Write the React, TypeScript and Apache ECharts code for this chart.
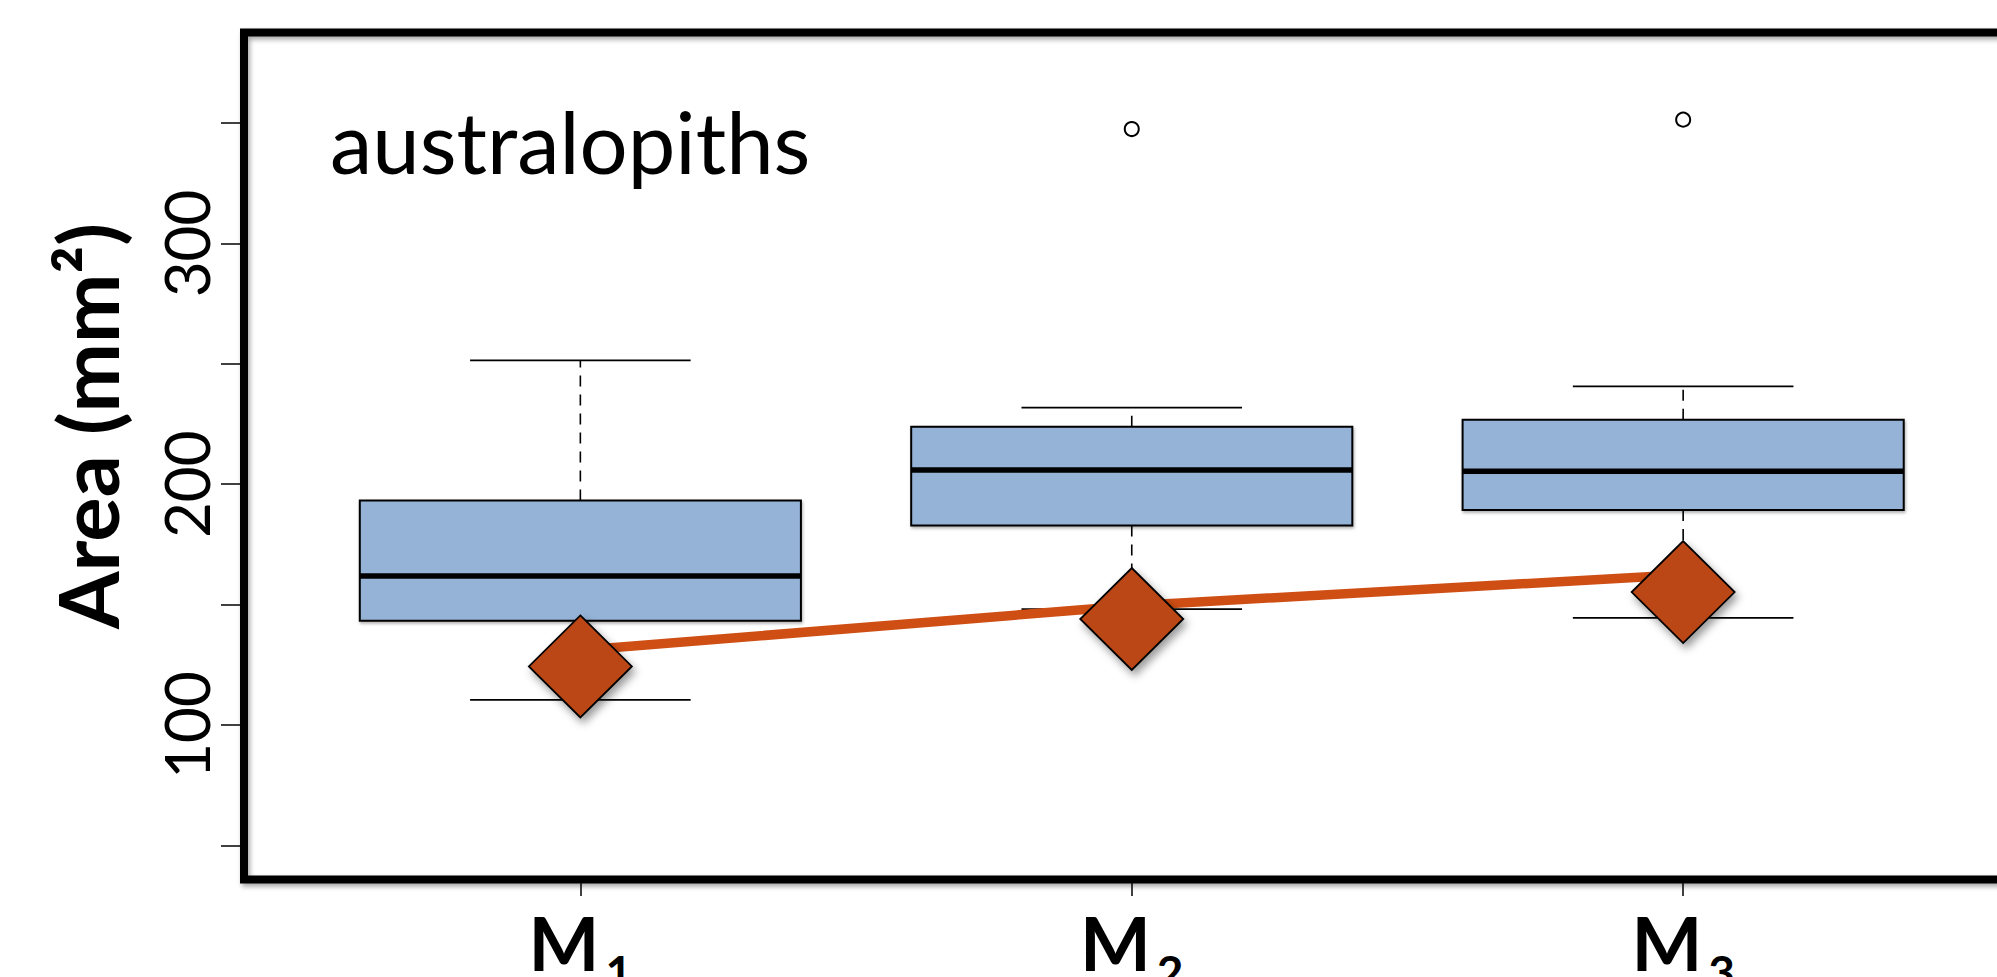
import React, { useEffect, useRef } from "react";
import * as echarts from "echarts";

// ---- data ----
const toothSubscripts = ["1", "2", "3"];
const toothPositions = [1, 2, 3];
// [lower whisker, Q1, median, Q3, upper whisker]
const boxStats = [
  [110.4, 143.3, 161.9, 193.2, 251.4],
  [148.1, 182.8, 205.9, 223.8, 231.8],
  [144.5, 189.3, 205.4, 226.8, 240.6],
];
const outlierPoints = [
  [2, 347.5],
  [3, 351.4],
];
const diamondValues = [124.3, 144.0, 155.2];
const lineValues = [131.0, 149.5, 162.4];
const yTickValues = [50, 100, 150, 200, 250, 300, 350];
const yLabelValues = [100, 200, 300];
const groupLabel = "australopiths";
const yTitle = "Area (mm²)";

const FONT = "Lato, 'Noto Sans', sans-serif";

export default function App() {
  const ref = useRef<HTMLDivElement>(null);

  useEffect(() => {
    if (!ref.current) return;
    const chart = echarts.init(ref.current, undefined, { renderer: "svg" });

    const boxData = toothPositions.map((x, i) => [x, ...boxStats[i]]);

    const option: any = {
      animation: false,
      backgroundColor: "#ffffff",
      grid: {
        left: 244,
        top: 32.5,
        bottom: 97.5,
        right: -17,
        show: true,
        borderColor: "#000",
        borderWidth: 8,
        backgroundColor: "transparent",
        shadowColor: "rgba(0,0,0,0.35)",
        shadowBlur: 5,
        shadowOffsetX: 2,
        shadowOffsetY: 3,
        containLabel: false,
        outerBoundsMode: "none",
      },
      xAxis: {
        type: "value",
        min: 0.39,
        max: 3.6,
        axisLine: { show: false },
        splitLine: { show: false },
        axisTick: {
          show: true,
          customValues: toothPositions,
          length: 16.5,
          lineStyle: { color: "#000", width: 1.5 },
        },
        axisLabel: {
          show: true,
          customValues: toothPositions,
          margin: 9,
          formatter: (v: number) => {
            const i = toothPositions.indexOf(Math.round(v));
            return `{m|M}{s|${toothSubscripts[i] ?? ""}}`;
          },
          rich: {
            m: {
              fontFamily: FONT,
              fontWeight: "bold",
              fontSize: 75,
              lineHeight: 106,
              color: "#000",
            },
            s: {
              fontFamily: FONT,
              fontWeight: "bold",
              fontSize: 46,
              lineHeight: 14,
              verticalAlign: "bottom",
              padding: [0, 0, 0, 6],
              color: "#000",
            },
          },
        },
      },
      yAxis: {
        type: "value",
        min: 35.8,
        max: 387.6,
        name: yTitle,
        nameLocation: "middle",
        nameGap: 116,
        nameTextStyle: {
          fontFamily: FONT,
          fontWeight: "bold",
          fontSize: 83,
          color: "#000",
          padding: [0, 0, 0, 60],
        },
        axisLine: { show: false },
        splitLine: { show: false },
        axisTick: {
          show: true,
          customValues: yTickValues,
          length: 23,
          lineStyle: { color: "#000", width: 1.5 },
        },
        axisLabel: {
          show: true,
          customValues: yLabelValues,
          rotate: 90,
          margin: 27,
          fontFamily: FONT,
          fontSize: 62,
          color: "#000",
        },
      },
      graphic: [
        {
          type: "text",
          left: 330,
          top: 98,
          style: {
            text: groupLabel,
            fontFamily: FONT,
            fontSize: 85,
            fill: "#000",
          },
          z: 100,
        },
      ],
      series: [
        {
          type: "custom",
          data: boxData,
          encode: { x: 0, y: [1, 2, 3, 4, 5] },
          z: 2,
          renderItem: (params: any, api: any) => {
            const x = api.value(0);
            const lo = api.value(1);
            const q1 = api.value(2);
            const md = api.value(3);
            const q3 = api.value(4);
            const hi = api.value(5);
            const pLo = api.coord([x, lo]);
            const pQ1 = api.coord([x, q1]);
            const pMd = api.coord([x, md]);
            const pQ3 = api.coord([x, q3]);
            const pHi = api.coord([x, hi]);
            const cx = pMd[0];
            const halfBox = api.size([0.8, 0])[0] / 2;
            const halfCap = api.size([0.4, 0])[0] / 2;
            const thin = { stroke: "#000", lineWidth: 1.8 };
            const dashed = { stroke: "#000", lineWidth: 1.6, lineDash: [11, 8] };
            return {
              type: "group",
              children: [
                { type: "line", shape: { x1: cx, y1: pQ3[1], x2: cx, y2: pHi[1] }, style: dashed },
                { type: "line", shape: { x1: cx, y1: pQ1[1], x2: cx, y2: pLo[1] }, style: dashed },
                { type: "line", shape: { x1: cx - halfCap, y1: pHi[1], x2: cx + halfCap, y2: pHi[1] }, style: thin },
                { type: "line", shape: { x1: cx - halfCap, y1: pLo[1], x2: cx + halfCap, y2: pLo[1] }, style: thin },
                {
                  type: "rect",
                  shape: { x: cx - halfBox, y: pQ3[1], width: halfBox * 2, height: pQ1[1] - pQ3[1] },
                  style: {
                    fill: "#95B3D7",
                    stroke: "#000",
                    lineWidth: 2,
                    shadowColor: "rgba(0,0,0,0.3)",
                    shadowBlur: 3,
                    shadowOffsetX: 1,
                    shadowOffsetY: 2,
                  },
                },
                {
                  type: "line",
                  shape: { x1: cx - halfBox, y1: pMd[1], x2: cx + halfBox, y2: pMd[1] },
                  style: { stroke: "#000", lineWidth: 5.5 },
                },
              ],
            };
          },
        },
        {
          type: "line",
          data: toothPositions.map((x, i) => [x, lineValues[i]]),
          symbol: "none",
          z: 3,
          lineStyle: { color: "#CE4E14", width: 9.5 },
        },
        {
          type: "scatter",
          data: toothPositions.map((x, i) => [x, diamondValues[i]]),
          symbol: "diamond",
          symbolSize: [103, 102],
          z: 4,
          itemStyle: {
            color: "#BC4713",
            borderColor: "#000",
            borderWidth: 1.8,
            opacity: 1,
            shadowColor: "rgba(0,0,0,0.4)",
            shadowBlur: 8,
            shadowOffsetX: 3,
            shadowOffsetY: 5,
          },
        },
        {
          type: "scatter",
          data: outlierPoints,
          symbol: "emptyCircle",
          symbolSize: 14,
          z: 4,
          itemStyle: { color: "#000", borderColor: "#000", borderWidth: 1.8, opacity: 1 },
        },
      ],
    };

    chart.setOption(option);
    return () => chart.dispose();
  }, []);

  return (
    <div
      ref={ref}
      style={{ position: "fixed", left: 0, top: 0, width: 1997, height: 977, background: "#fff" }}
    />
  );
}
